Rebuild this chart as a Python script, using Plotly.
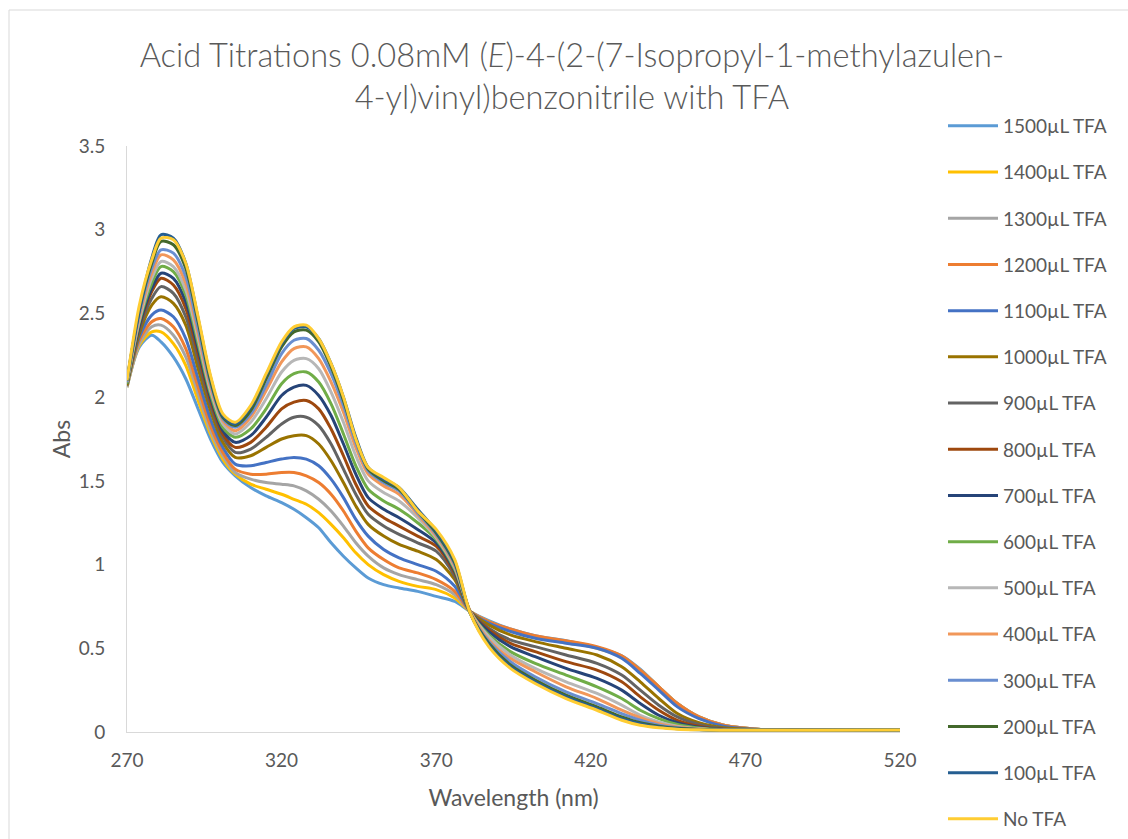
import plotly.graph_objects as go

# ---------------- data ----------------
wavelength_nm = [270, 274, 278, 281, 285, 289, 293, 297, 301, 305, 310, 315, 320, 324, 328,
                 332, 336, 340, 344, 348, 353, 358, 364, 370, 376, 381, 387, 394, 402, 412,
                 422, 430, 436, 442, 448, 455, 463, 475, 495, 520]

abs_1500 = [2.06, 2.30, 2.37, 2.33, 2.24, 2.11, 1.93, 1.75, 1.61,
            1.53, 1.46, 1.41, 1.37, 1.33, 1.28, 1.22, 1.13, 1.05, 0.98, 0.92,
            0.88, 0.86, 0.84, 0.81, 0.78, 0.72,
            0.665, 0.615, 0.575, 0.545, 0.505, 0.455, 0.375, 0.27, 0.17, 0.09, 0.04, 0.015, 0.012, 0.015]
abs_1400 = [2.06, 2.31, 2.39, 2.39, 2.32, 2.19, 1.98, 1.78, 1.63,
            1.54, 1.48, 1.45, 1.42, 1.39, 1.36, 1.31, 1.24, 1.16, 1.07, 1.00,
            0.94, 0.90, 0.87, 0.85, 0.80, 0.72,
            0.66, 0.61, 0.57, 0.54, 0.50, 0.45, 0.37, 0.27, 0.17, 0.09, 0.04, 0.015, 0.012, 0.015]
abs_1300 = [2.06, 2.32, 2.42, 2.43, 2.37, 2.24, 2.02, 1.80, 1.65,
            1.55, 1.51, 1.49, 1.48, 1.47, 1.44, 1.39, 1.32, 1.23, 1.13, 1.05,
            0.98, 0.94, 0.91, 0.88, 0.82, 0.72,
            0.66, 0.61, 0.57, 0.54, 0.505, 0.45, 0.37, 0.27, 0.17, 0.09, 0.04, 0.015, 0.012, 0.015]
abs_1200 = [2.07, 2.34, 2.45, 2.47, 2.42, 2.29, 2.06, 1.83, 1.67,
            1.57, 1.54, 1.54, 1.55, 1.55, 1.53, 1.49, 1.42, 1.32, 1.20, 1.10,
            1.03, 0.98, 0.95, 0.91, 0.84, 0.72,
            0.66, 0.615, 0.575, 0.545, 0.51, 0.455, 0.37, 0.27, 0.17, 0.09, 0.04, 0.015, 0.012, 0.015]
abs_1100 = [2.07, 2.36, 2.49, 2.52, 2.48, 2.35, 2.11, 1.87, 1.70,
            1.60, 1.59, 1.61, 1.63, 1.64, 1.63, 1.59, 1.51, 1.40, 1.27, 1.17,
            1.09, 1.04, 1.00, 0.96, 0.87, 0.72,
            0.65, 0.60, 0.56, 0.53, 0.50, 0.44, 0.35, 0.25, 0.15, 0.08, 0.035, 0.015, 0.012, 0.015]
abs_1000 = [2.07, 2.38, 2.55, 2.60, 2.56, 2.43, 2.17, 1.92, 1.73,
            1.64, 1.65, 1.70, 1.75, 1.77, 1.77, 1.72, 1.62, 1.49, 1.35, 1.24,
            1.17, 1.12, 1.08, 1.03, 0.91, 0.72,
            0.64, 0.58, 0.54, 0.50, 0.46, 0.39, 0.30, 0.20, 0.11, 0.055, 0.025, 0.013, 0.011, 0.014]
abs_900 = [2.08, 2.40, 2.59, 2.66, 2.62, 2.48, 2.22, 1.95, 1.76,
           1.67, 1.69, 1.76, 1.84, 1.88, 1.88, 1.83, 1.72, 1.57, 1.42, 1.30,
           1.23, 1.18, 1.13, 1.08, 0.93, 0.72,
           0.62, 0.55, 0.51, 0.46, 0.41, 0.34, 0.25, 0.16, 0.09, 0.045, 0.02, 0.012, 0.011, 0.014]
abs_800 = [2.08, 2.42, 2.63, 2.71, 2.67, 2.53, 2.26, 1.98, 1.78,
           1.70, 1.73, 1.82, 1.93, 1.97, 1.98, 1.93, 1.81, 1.65, 1.48, 1.35,
           1.28, 1.23, 1.17, 1.11, 0.95, 0.72,
           0.61, 0.53, 0.48, 0.42, 0.37, 0.30, 0.21, 0.13, 0.07, 0.035, 0.017, 0.012, 0.01, 0.014]
abs_700 = [2.08, 2.43, 2.65, 2.74, 2.71, 2.57, 2.29, 2.00, 1.80,
           1.73, 1.77, 1.88, 2.01, 2.06, 2.07, 2.01, 1.89, 1.72, 1.54, 1.40,
           1.33, 1.28, 1.21, 1.13, 0.96, 0.72,
           0.60, 0.51, 0.45, 0.38, 0.32, 0.25, 0.17, 0.10, 0.055, 0.028, 0.015, 0.011, 0.01, 0.013]
abs_600 = [2.08, 2.45, 2.68, 2.78, 2.75, 2.61, 2.32, 2.02, 1.82,
           1.76, 1.81, 1.93, 2.08, 2.14, 2.15, 2.09, 1.96, 1.78, 1.59, 1.45,
           1.38, 1.33, 1.25, 1.15, 0.97, 0.72,
           0.58, 0.48, 0.41, 0.34, 0.27, 0.20, 0.13, 0.08, 0.045, 0.024, 0.014, 0.011, 0.01, 0.013]
abs_500 = [2.09, 2.46, 2.71, 2.81, 2.78, 2.64, 2.35, 2.04, 1.84,
           1.78, 1.85, 1.99, 2.15, 2.22, 2.23, 2.17, 2.03, 1.85, 1.65, 1.50,
           1.43, 1.38, 1.28, 1.16, 0.98, 0.72,
           0.57, 0.46, 0.38, 0.30, 0.23, 0.16, 0.10, 0.06, 0.035, 0.02, 0.013, 0.01, 0.01, 0.013]
abs_400 = [2.09, 2.48, 2.74, 2.85, 2.82, 2.68, 2.38, 2.06, 1.86,
           1.80, 1.88, 2.04, 2.21, 2.29, 2.30, 2.23, 2.09, 1.91, 1.70, 1.54,
           1.47, 1.42, 1.30, 1.17, 0.99, 0.72,
           0.55, 0.44, 0.36, 0.27, 0.20, 0.13, 0.085, 0.05, 0.03, 0.018, 0.012, 0.01, 0.01, 0.012]
abs_300 = [2.09, 2.50, 2.77, 2.88, 2.86, 2.72, 2.41, 2.08, 1.87,
           1.82, 1.90, 2.07, 2.26, 2.34, 2.35, 2.28, 2.14, 1.95, 1.73, 1.56,
           1.49, 1.44, 1.31, 1.18, 1.00, 0.71,
           0.54, 0.42, 0.33, 0.24, 0.17, 0.11, 0.07, 0.04, 0.025, 0.016, 0.012, 0.01, 0.01, 0.012]
abs_200 = [2.10, 2.52, 2.80, 2.93, 2.91, 2.77, 2.45, 2.10, 1.88,
           1.83, 1.92, 2.11, 2.30, 2.39, 2.40, 2.33, 2.18, 1.98, 1.75, 1.57,
           1.50, 1.45, 1.32, 1.19, 1.01, 0.71,
           0.53, 0.40, 0.31, 0.22, 0.15, 0.09, 0.055, 0.035, 0.022, 0.015, 0.011, 0.01, 0.01, 0.012]
abs_100 = [2.10, 2.52, 2.83, 2.97, 2.95, 2.80, 2.47, 2.12, 1.89,
           1.84, 1.94, 2.13, 2.32, 2.41, 2.42, 2.35, 2.20, 2.00, 1.76, 1.58,
           1.51, 1.46, 1.33, 1.20, 1.02, 0.71,
           0.52, 0.39, 0.30, 0.21, 0.14, 0.08, 0.05, 0.03, 0.02, 0.013, 0.01, 0.01, 0.01, 0.012]
abs_no_tfa = [2.10, 2.55, 2.82, 2.95, 2.94, 2.80, 2.48, 2.13, 1.90,
              1.85, 1.95, 2.14, 2.33, 2.42, 2.43, 2.35, 2.20, 2.00, 1.75, 1.58,
              1.52, 1.46, 1.32, 1.21, 1.03, 0.71,
              0.51, 0.38, 0.29, 0.20, 0.13, 0.07, 0.04, 0.025, 0.017, 0.013, 0.01, 0.01, 0.01, 0.012]

series_labels = ["1500µL TFA", "1400µL TFA", "1300µL TFA", "1200µL TFA", "1100µL TFA",
                 "1000µL TFA", "900µL TFA", "800µL TFA", "700µL TFA", "600µL TFA",
                 "500µL TFA", "400µL TFA", "300µL TFA", "200µL TFA", "100µL TFA", "No TFA"]
series_values = [abs_1500, abs_1400, abs_1300, abs_1200, abs_1100, abs_1000, abs_900, abs_800,
                 abs_700, abs_600, abs_500, abs_400, abs_300, abs_200, abs_100, abs_no_tfa]
series_colors = ["#5B9BD5", "#FFC000", "#A5A5A5", "#ED7D31", "#4472C4", "#997300", "#636363",
                 "#9E480E", "#264478", "#70AD47", "#B7B7B7", "#F1975A", "#698ED0", "#43682B",
                 "#255E91", "#FFCD33"]

x_ticks = [270, 320, 370, 420, 470, 520]
y_ticks = [0, 0.5, 1, 1.5, 2, 2.5, 3, 3.5]

# ---------------- figure ----------------
FONT = "Lato, Carlito, 'Open Sans', sans-serif"
TXT = "#595959"

fig = go.Figure()
for i, (lab, vals, col) in enumerate(zip(series_labels, series_values, series_colors)):
    fig.add_trace(go.Scatter(
        x=wavelength_nm, y=vals, name=lab, mode="lines",
        line=dict(color=col, width=3, shape="spline", smoothing=0.8),
        legendgroup=f"g{i}",
    ))

fig.update_layout(
    width=1128, height=839,
    margin=dict(l=127, r=228, t=146, b=107),
    paper_bgcolor="white", plot_bgcolor="white",
    font=dict(family=FONT, color=TXT, size=19),
    title=dict(
        text="Acid Titrations 0.08mM (<i>E</i>)-4-(2-(7-Isopropyl-1-methylazulen-<br>4-yl)vinyl)benzonitrile with TFA",
        x=0.507, xref="container", xanchor="center",
        y=1 - 67 / 839, yref="container", yanchor="middle",
        font=dict(family=FONT, size=32.6, color=TXT, weight=300),
    ),
    xaxis=dict(
        range=[270, 520], tickvals=x_ticks, ticktext=[str(v) for v in x_ticks],
        showgrid=False, zeroline=False, showline=True, linecolor="#D9D9D9", linewidth=1,
        ticks="", ticklabelstandoff=11, tickfont=dict(size=19, color=TXT),
        title=dict(text="Wavelength (nm)", font=dict(size=23, color=TXT), standoff=20),
    ),
    yaxis=dict(
        range=[0, 3.5], tickvals=y_ticks, ticktext=[f"{v:g}" for v in y_ticks],
        showgrid=False, zeroline=False, showline=True, linecolor="#D9D9D9", linewidth=1,
        ticks="", ticklabelstandoff=17, tickfont=dict(size=19, color=TXT),
        title=dict(text="Abs", font=dict(size=23, color=TXT), standoff=1),
    ),
    legend=dict(
        x=(943 - 127) / 773, xanchor="left", y=1 + (146 - 107) / 586, yanchor="top",
        traceorder="grouped", tracegroupgap=18.5, itemwidth=50, maxheight=800,
        font=dict(size=19, color=TXT), bgcolor="rgba(0,0,0,0)",
    ),
    showlegend=True,
)

# outer chart border (light grey frame)
fig.add_shape(type="rect", xref="paper", yref="paper",
              x0=(9 - 127) / 773, x1=(1140 - 127) / 773,
              y0=(732 - 850) / 586, y1=1 + (146 - 10) / 586,
              line=dict(color="#D9D9D9", width=1), fillcolor="rgba(0,0,0,0)", layer="below")

fig.write_html("out.html")
